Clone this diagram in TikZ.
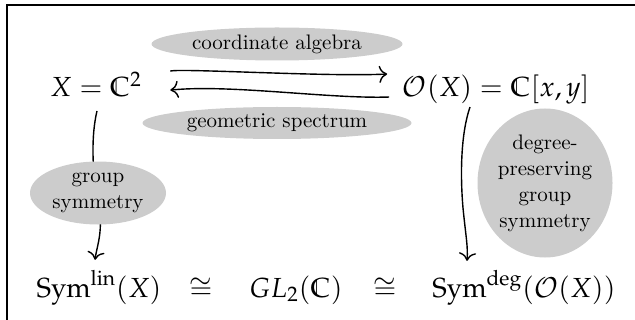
\documentclass[tikz,border=0pt]{standalone}
\usepackage{mathpazo}
\usepackage{amssymb}
\usepackage{tikz}
\usetikzlibrary{arrows.meta,calc,shapes.geometric}
\definecolor{GrisEtiqueta}{RGB}{204,204,204}

\tikzset{
  termino/.style={inner sep=0pt,anchor=base,font=\fontsize{13.8}{16}\selectfont},
  etiqueta/.style={ellipse,fill=GrisEtiqueta,inner sep=0pt,align=center,
                   font=\fontsize{10.5}{13}\selectfont},
  flecha/.style={-{To[scale=1.3]},line width=0.7pt},
}

\begin{document}
\begin{tikzpicture}[x=0.5pt,y=-0.5pt]
  \clip (0,0) rectangle (635,320);
  \draw[line width=0.75pt] (7,5) rectangle (660,340);

  % objetos
  \node[termino] (X)  at (96,97)  {$X = \mathbb{C}^2$};
  \node[termino] (OX) at (496,97) {$\mathcal{O}(X) = \mathbb{C}[x,y]$};

  \node[termino] (symlin) at (99,297)  {$\mathrm{Sym}^{\mathrm{lin}}(X)$};
  \node[termino] (cong1)  at (201,297) {$\cong$};
  \node[termino] (gl)     at (296,297) {$GL_2(\mathbb{C})$};
  \node[termino] (cong2)  at (385,297) {$\cong$};
  \node[termino] (symdeg) at (524,297) {$\mathrm{Sym}^{\mathrm{deg}}(\mathcal{O}(X))$};

  % flechas
  \draw[flecha] ($(X.east)+(28,-14)$)
       .. controls +(10,-3) and +(-60,3) .. ($(OX.west)+(-15,-16)$);
  \draw[flecha] ($(OX.west)+(-13,7)$)
       .. controls +(-60,2) and +(60,-6) .. ($(X.east)+(28,5)$);
  \draw[flecha] ($(X.south)+(1,13)$)
       .. controls +(-6,25) and +(-6,-30) .. ($(X.south)+(2,103)$)
       .. controls +(6,30) and +(2,-15) .. ($(symlin.north)+(-4,-10)$);
  \draw[flecha] ($(OX.south)+(-26,2)$)
       .. controls +(-9,26) and +(-3,-35) .. ($(OX.south)+(-33,103)$)
       .. controls +(3,30) and +(1,-15) .. ($(symdeg.north)+(-57,-9)$);

  % etiquetas
  \node[etiqueta,minimum width=125.5pt,minimum height=16.5pt] (coordalg) at (277,44)
       {coordinate algebra};
  \node[etiqueta,minimum width=134.5pt,minimum height=16pt] (geospec) at (277,123)
       {geometric spectrum};
  \node[etiqueta,minimum width=68pt,minimum height=31.5pt] (groupsym) at (98,193)
       {group\\symmetry};
  \node[etiqueta,minimum width=67.5pt,minimum height=74.5pt] (degsym) at (545,183)
       {degree-\\preserving\\group\\symmetry};
\end{tikzpicture}
\end{document}
